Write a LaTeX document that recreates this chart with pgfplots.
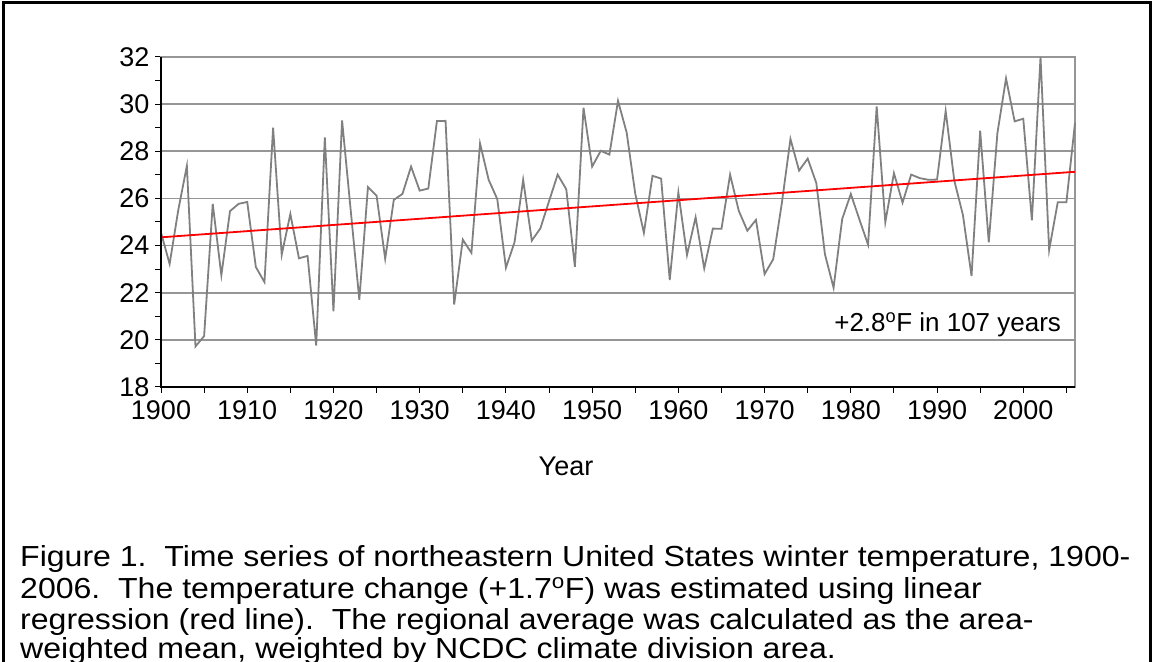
\documentclass[border=0pt]{standalone}
\usepackage{pgfplots}
\pgfplotsset{compat=1.18}
\usepackage{graphicx}
\usepackage{fontspec}
\setmainfont{Liberation Sans}
\definecolor{lineg}{RGB}{128,128,128}
\definecolor{gridg}{RGB}{150,150,150}
\newcommand{\capline}[1]{\scalebox{1.105}[1]{#1}}
\begin{document}
\begin{tikzpicture}[x=1pt,y=1pt]
\useasboundingbox (0,0) rectangle (1153,661);
\begin{axis}[
  at={(161pt,274pt)}, anchor=south west,
  scale only axis, width=914pt, height=330pt,
  xmin=1900, xmax=2006, ymin=18, ymax=32,
  xtick={1900,1910,...,2000},
  minor xtick={1905,1915,...,2005},
  ytick={18,20,...,32},
  minor ytick={19,21,...,31},
  xticklabel style={font=\fontsize{27}{32}\selectfont, yshift=-4pt},
  yticklabel style={font=\fontsize{27}{32}\selectfont, xshift=-2pt},
  /pgf/number format/assume math mode=true,
  /pgf/number format/1000 sep={},
  tick align=outside,
  xtick pos=bottom, ytick pos=left,
  major tick length=6pt, minor tick length=6pt,
  tick style={black, line width=1pt},
  ymajorgrids, major grid style={gridg, line width=1.6pt},
  axis line style={gridg, line width=1.6pt},
  clip=false,
]
\addplot[lineg, line width=1.8pt] table {
1900 24.55
1901 23.22
1902 25.5
1903 27.38
1904 19.72
1905 20.16
1906 25.77
1907 22.74
1908 25.46
1909 25.77
1910 25.85
1911 23.09
1912 22.45
1913 29.0
1914 23.61
1915 25.34
1916 23.46
1917 23.56
1918 19.76
1919 28.59
1920 21.21
1921 29.31
1922 25.5
1923 21.7
1924 26.48
1925 26.12
1926 23.44
1927 25.94
1928 26.19
1929 27.35
1930 26.33
1931 26.42
1932 29.28
1933 29.29
1934 21.5
1935 24.25
1936 23.69
1937 28.33
1938 26.79
1939 25.97
1940 23.06
1941 24.14
1942 26.79
1943 24.21
1944 24.73
1945 25.88
1946 27.01
1947 26.39
1948 23.1
1949 29.85
1950 27.35
1951 28.02
1952 27.86
1953 30.14
1954 28.8
1955 26.2
1956 24.54
1957 26.96
1958 26.84
1959 22.54
1960 26.25
1961 23.6
1962 25.2
1963 23.03
1964 24.72
1965 24.71
1966 27.01
1967 25.48
1968 24.63
1969 25.09
1970 22.79
1971 23.42
1972 25.8
1973 28.52
1974 27.18
1975 27.69
1976 26.65
1977 23.63
1978 22.21
1979 25.13
1980 26.19
1981 25.1
1982 24.04
1983 29.9
1984 24.99
1985 27.07
1986 25.82
1987 27.01
1988 26.86
1989 26.79
1990 26.8
1991 29.71
1992 26.76
1993 25.3
1994 22.71
1995 28.87
1996 24.14
1997 28.77
1998 31.09
1999 29.27
2000 29.38
2001 25.07
2002 32.0
2003 23.81
2004 25.84
2005 25.84
2006 29.2
};
\addplot[red, line width=1.8pt] coordinates {(1900,24.35) (2006,27.13)};
\draw[black, line width=1.2pt] (rel axis cs:0,1) -- (rel axis cs:0,0) -- (rel axis cs:1,0);
\node[anchor=east, font=\fontsize{26}{30}\selectfont, inner sep=0pt] at (axis cs:2004.4,20.62) {+2.8\textsuperscript{o}F in 107 years};
\end{axis}
\node[font=\fontsize{27}{32}\selectfont] at (566,195) {Year};
\begin{scope}[font=\fontsize{29}{31}\selectfont]
\node[anchor=base west, inner sep=0pt] at (20,94) {\capline{Figure 1.\ \ Time series of northeastern United States winter temperature, 1900-}};
\node[anchor=base west, inner sep=0pt] at (20,63) {\capline{2006.\ \ The temperature change (+1.7\textsuperscript{o}F) was estimated using linear}};
\node[anchor=base west, inner sep=0pt] at (20,32) {\capline{regression (red line).\ \ The regional average was calculated as the area-}};
\node[anchor=base west, inner sep=0pt] at (20,3) {\capline{weighted mean, weighted by NCDC climate division area.}};
\end{scope}
\draw[black, line width=3pt] (3,-10) -- (3,658) -- (1150,658) -- (1150,-10);
\end{tikzpicture}
\end{document}
